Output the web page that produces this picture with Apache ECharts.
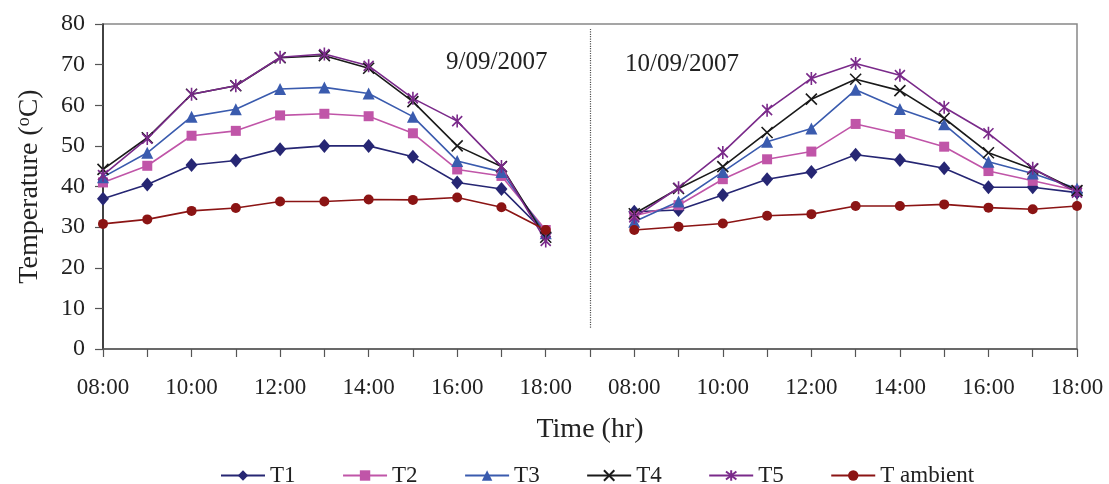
<!DOCTYPE html>
<html>
<head>
<meta charset="utf-8">
<script src="https://cdn.jsdelivr.net/npm/echarts@6/dist/echarts.min.js"></script>
<style>
html,body{margin:0;padding:0;background:#fff;}
#chart{width:1109px;height:484px;}
</style>
</head>
<body>
<div id="chart"></div>
<script>
// Categories: two days 08:00-18:00 with a gap slot between them
const categories = ['08:00','09:00','10:00','11:00','12:00','13:00','14:00','15:00','16:00','17:00','18:00','',
                    '08:00','09:00','10:00','11:00','12:00','13:00','14:00','15:00','16:00','17:00','18:00'];
const yTicks = { min: 0, max: 80, interval: 10 };
const dayLabels = ['9/09/2007', '10/09/2007'];
const seriesNames = ['T1','T2','T3','T4','T5','T ambient'];

const T1 = [37, 40.5, 45.3, 46.4, 49.2, 50, 50, 47.3, 41, 39.4, 28.5, null,
            33.8, 34.2, 37.9, 41.8, 43.6, 47.8, 46.5, 44.5, 39.8, 39.8, 38.5];
const T2 = [41, 45.1, 52.5, 53.7, 57.5, 57.9, 57.3, 53.1, 44.2, 42.6, 29.3, null,
            32.8, 35.4, 41.8, 46.7, 48.6, 55.4, 52.9, 49.8, 43.8, 41.4, 39];
const T3 = [42.3, 48.3, 57.2, 59, 64, 64.4, 62.9, 57.2, 46.3, 43.6, 28.5, null,
            31.3, 36.3, 43.6, 51, 54.3, 63.8, 59.1, 55.3, 46.1, 43.2, 39.5];
const T4 = [44.2, 52, 62.7, 64.8, 71.7, 72.2, 69.1, 60.9, 50, 44.9, 27.5, null,
            33.3, 39.5, 44.9, 53.3, 61.5, 66.4, 63.6, 56.8, 48.3, 44.3, 39];
const T5 = [42.8, 51.8, 62.7, 64.8, 71.8, 72.6, 69.7, 61.7, 56.1, 44.9, 26.6, null,
            32.4, 39.7, 48.4, 58.8, 66.6, 70.3, 67.4, 59.5, 53.1, 44.5, 38.5];
const Tambient = [30.8, 31.9, 34, 34.7, 36.3, 36.3, 36.8, 36.7, 37.3, 34.9, 29.3, null,
                  29.3, 30.1, 30.9, 32.8, 33.2, 35.2, 35.2, 35.6, 34.8, 34.4, 35.2];
// day divider (category index and value range)
const dividerIndex = 11;
const dividerRange = [5.2, 78.8];

const FONT = '"Liberation Serif","Times New Roman",serif';
const TXT = '#222';

function mk(name, data, color, symbol, size, extra) {
  return Object.assign({
    name: name, type: 'line', data: data,
    symbol: symbol, symbolSize: size, symbolKeepAspect: true,
    showAllSymbol: true, connectNulls: false,
    lineStyle: { color: color, width: 1.6 },
    itemStyle: { color: color },
    emphasis: { disabled: true },
    animation: false
  }, extra || {});
}

const xPath = 'path://M0,0L10,10M10,0L0,10';
const starPath = 'path://M0,0L10,10M10,0L0,10M5,-1.5L5,11.5';

const series = [
  mk('T1', T1, '#262673', 'diamond', [12, 14]),
  mk('T2', T2, '#C055A8', 'rect', 10),
  mk('T3', T3, '#3A5BAE', 'triangle', 12),
  mk('T4', T4, '#1a1a1a', xPath, 11, { itemStyle: { color: '#1a1a1a', borderColor: '#1a1a1a', borderWidth: 1.6 } }),
  mk('T5', T5, '#7A2A8A', starPath, 13, { itemStyle: { color: '#7A2A8A', borderColor: '#7A2A8A', borderWidth: 1.6 } }),
  mk('T ambient', Tambient, '#8B1414', 'circle', 10),
  {
    type: 'line', data: [], silent: true, animation: false,
    markLine: {
      silent: true, symbol: ['none','none'], label: { show: false },
      lineStyle: { color: '#555', type: 'dotted', width: 1.2 },
      data: [[{ coord: [dividerIndex, dividerRange[1]] }, { coord: [dividerIndex, dividerRange[0]] }]]
    }
  }
];

const chart = echarts.init(document.getElementById('chart'), null, { renderer: 'canvas' });
chart.setOption({
  backgroundColor: '#fff',
  animation: false,
  grid: { left: 103, right: 32, top: 24, bottom: 135, show: true, borderColor: '#888', borderWidth: 1.5 },
  legend: {
    data: seriesNames, left: 215, top: 459,
    itemWidth: 44, itemHeight: 13, itemGap: 46.5,
    textStyle: { fontFamily: FONT, fontSize: 23, color: TXT },
    selectedMode: false
  },
  xAxis: {
    type: 'category', data: categories, boundaryGap: false,
    name: 'Time (hr)', nameLocation: 'middle', nameGap: 67,
    nameTextStyle: { fontFamily: FONT, fontSize: 28, color: TXT },
    axisLine: { lineStyle: { color: '#555', width: 1.5 } },
    axisTick: { show: true, interval: 0, length: 8, lineStyle: { color: '#555', width: 1.2 } },
    axisLabel: { interval: 1, margin: 27, fontFamily: FONT, fontSize: 23, color: TXT },
    splitLine: { show: false }
  },
  yAxis: {
    type: 'value', min: yTicks.min, max: yTicks.max, interval: yTicks.interval,
    name: 'Temperature ({sup|o}C)', nameLocation: 'middle', nameGap: 58, nameRotate: 90,
    nameTextStyle: {
      fontFamily: FONT, fontSize: 28, color: TXT,
      rich: { sup: { fontFamily: FONT, fontSize: 18, color: TXT, padding: [0, 0, 12, 0] } }
    },
    axisLine: { show: true, lineStyle: { color: '#222', width: 1.5 } },
    axisTick: { show: true, length: 8, lineStyle: { color: '#555', width: 1.2 } },
    axisLabel: { margin: 18, fontFamily: FONT, fontSize: 24, color: TXT },
    splitLine: { show: false }
  },
  graphic: [
    { type: 'text', left: 446, top: 50, style: { text: dayLabels[0], font: '25px ' + FONT, fill: TXT } },
    { type: 'text', left: 625, top: 52, style: { text: dayLabels[1], font: '25px ' + FONT, fill: TXT } }
  ],
  series: series
});
</script>
</body>
</html>
